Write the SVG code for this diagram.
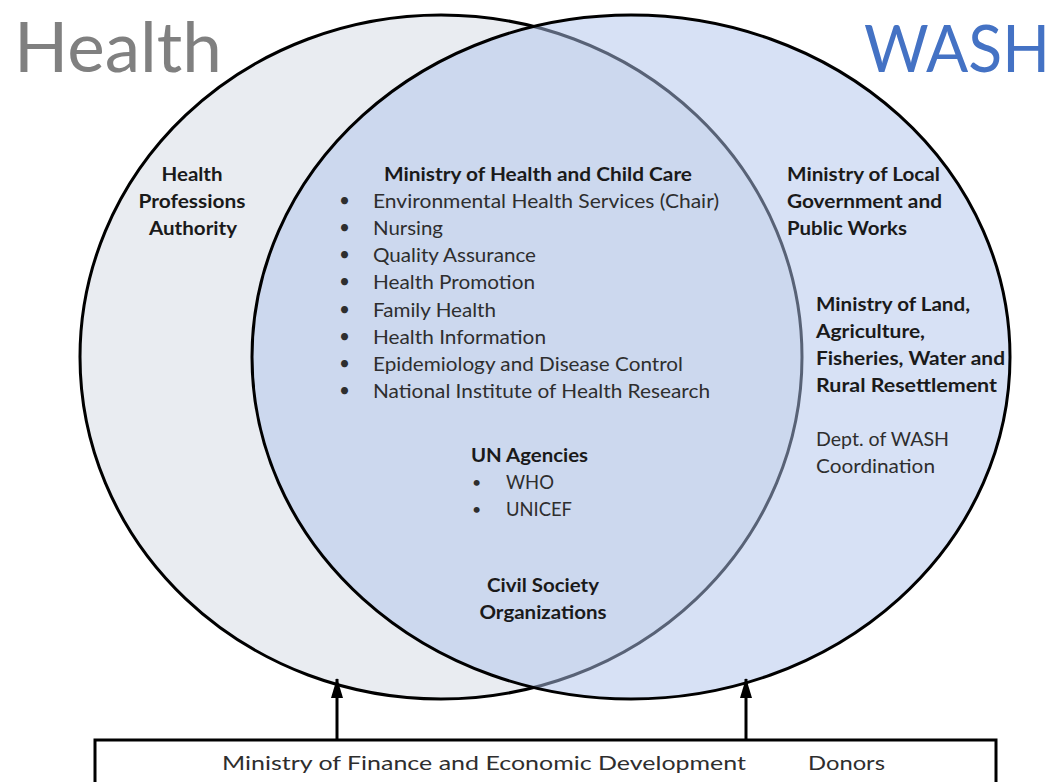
<svg xmlns="http://www.w3.org/2000/svg" width="1064" height="782" viewBox="0 0 1064 782">
  <defs>
    <marker id="arrowhead" viewBox="0 0 20 12" refX="19" refY="6" markerWidth="20" markerHeight="12" markerUnits="userSpaceOnUse" orient="auto">
      <path d="M0,0 L20,6 L0,12 Z" fill="#000"/>
    </marker>
    <style>
      text { font-family: Lato, "Open Sans", "Liberation Sans", sans-serif; font-size: 19px; }
      .title { font-size: 70px; }
      .title-w { font-size: 66px; }
      .b { font-weight: bold; fill: #1a1a1a; }
      .r { fill: #2e2e2e; }
      .dot { fill: #2e2e2e; font-size: 16px; }
      .mid { text-anchor: middle; }
      .ring { stroke: #000; stroke-width: 3; }
      .link { stroke: #000; stroke-width: 3; fill: none; }
      .box { fill: #fff; stroke: #000; stroke-width: 3; }
    </style>
  </defs>

  <rect width="1064" height="782" fill="#fff"/>

  <!-- Venn circles -->
  <g id="health-circle">
    <ellipse class="ring" cx="441" cy="357" rx="361" ry="342" fill="#E9ECF1"/>
    <text class="title" x="14" y="72" fill="#808080" textLength="208" lengthAdjust="spacingAndGlyphs">Health</text>
  </g>
  <g id="wash-circle">
    <ellipse class="ring" cx="631" cy="357" rx="379" ry="342" fill="rgb(176,196,236)" fill-opacity="0.5"/>
    <text class="title-w" x="864" y="72" fill="#4472C4" textLength="186" lengthAdjust="spacingAndGlyphs">WASH</text>
  </g>

  <!-- Health only -->
  <g id="hpa">
    <text class="b mid" x="192" y="181" textLength="61" lengthAdjust="spacingAndGlyphs">Health</text>
    <text class="b mid" x="192" y="208" textLength="107" lengthAdjust="spacingAndGlyphs">Professions</text>
    <text class="b mid" x="193" y="235" textLength="88" lengthAdjust="spacingAndGlyphs">Authority</text>
  </g>

  <!-- Shared: Ministry of Health and Child Care -->
  <g id="mohcc">
    <text class="b mid" x="538" y="181" textLength="308" lengthAdjust="spacingAndGlyphs">Ministry of Health and Child Care</text>
    <g class="dot">
      <text x="339" y="207">•</text>
      <text x="339" y="234">•</text>
      <text x="339" y="261">•</text>
      <text x="339" y="288">•</text>
      <text x="339" y="316">•</text>
      <text x="339" y="343">•</text>
      <text x="339" y="370">•</text>
      <text x="339" y="397">•</text>
    </g>
    <text class="r" x="373" y="208" textLength="346" lengthAdjust="spacingAndGlyphs">Environmental Health Services (Chair)</text>
    <text class="r" x="373" y="235" textLength="70" lengthAdjust="spacingAndGlyphs">Nursing</text>
    <text class="r" x="373" y="262" textLength="163" lengthAdjust="spacingAndGlyphs">Quality Assurance</text>
    <text class="r" x="373" y="289" textLength="162" lengthAdjust="spacingAndGlyphs">Health Promotion</text>
    <text class="r" x="373" y="317" textLength="123" lengthAdjust="spacingAndGlyphs">Family Health</text>
    <text class="r" x="373" y="344" textLength="173" lengthAdjust="spacingAndGlyphs">Health Information</text>
    <text class="r" x="373" y="371" textLength="310" lengthAdjust="spacingAndGlyphs">Epidemiology and Disease Control</text>
    <text class="r" x="373" y="398" textLength="337" lengthAdjust="spacingAndGlyphs">National Institute of Health Research</text>
  </g>

  <g id="un-agencies">
    <text class="b" x="471" y="462" textLength="117" lengthAdjust="spacingAndGlyphs">UN Agencies</text>
    <text class="dot" x="472" y="488">•</text>
    <text class="dot" x="472" y="515">•</text>
    <text class="r" x="506" y="489" textLength="48" lengthAdjust="spacingAndGlyphs">WHO</text>
    <text class="r" x="506" y="516" textLength="66" lengthAdjust="spacingAndGlyphs">UNICEF</text>
  </g>

  <g id="cso">
    <text class="b mid" x="543" y="592" textLength="112" lengthAdjust="spacingAndGlyphs">Civil Society</text>
    <text class="b mid" x="543" y="619" textLength="127" lengthAdjust="spacingAndGlyphs">Organizations</text>
  </g>

  <!-- WASH only -->
  <g id="molgpw">
    <text class="b" x="787" y="181" textLength="153" lengthAdjust="spacingAndGlyphs">Ministry of Local</text>
    <text class="b" x="787" y="208" textLength="155" lengthAdjust="spacingAndGlyphs">Government and</text>
    <text class="b" x="787" y="235" textLength="120" lengthAdjust="spacingAndGlyphs">Public Works</text>
  </g>
  <g id="molafwrr">
    <text class="b" x="816" y="311" textLength="154" lengthAdjust="spacingAndGlyphs">Ministry of Land,</text>
    <text class="b" x="816" y="338" textLength="109" lengthAdjust="spacingAndGlyphs">Agriculture,</text>
    <text class="b" x="816" y="365" textLength="189" lengthAdjust="spacingAndGlyphs">Fisheries, Water and</text>
    <text class="b" x="816" y="392" textLength="181" lengthAdjust="spacingAndGlyphs">Rural Resettlement</text>
  </g>
  <g id="wash-coordination">
    <text class="r" x="816" y="446" textLength="133" lengthAdjust="spacingAndGlyphs">Dept. of WASH</text>
    <text class="r" x="816" y="473" textLength="119" lengthAdjust="spacingAndGlyphs">Coordination</text>
  </g>

  <!-- Funding box -->
  <g id="funders">
    <rect class="box" x="95" y="740" width="901" height="60"/>
    <text class="r" x="222" y="770" textLength="524" lengthAdjust="spacingAndGlyphs">Ministry of Finance and Economic Development</text>
    <text class="r" x="808" y="770" textLength="77" lengthAdjust="spacingAndGlyphs">Donors</text>
  </g>

  <!-- Connectors -->
  <g id="connectors">
    <line class="link" x1="337" y1="740" x2="337" y2="679" marker-end="url(#arrowhead)"/>
    <line class="link" x1="746" y1="740" x2="746" y2="679" marker-end="url(#arrowhead)"/>
  </g>
</svg>
